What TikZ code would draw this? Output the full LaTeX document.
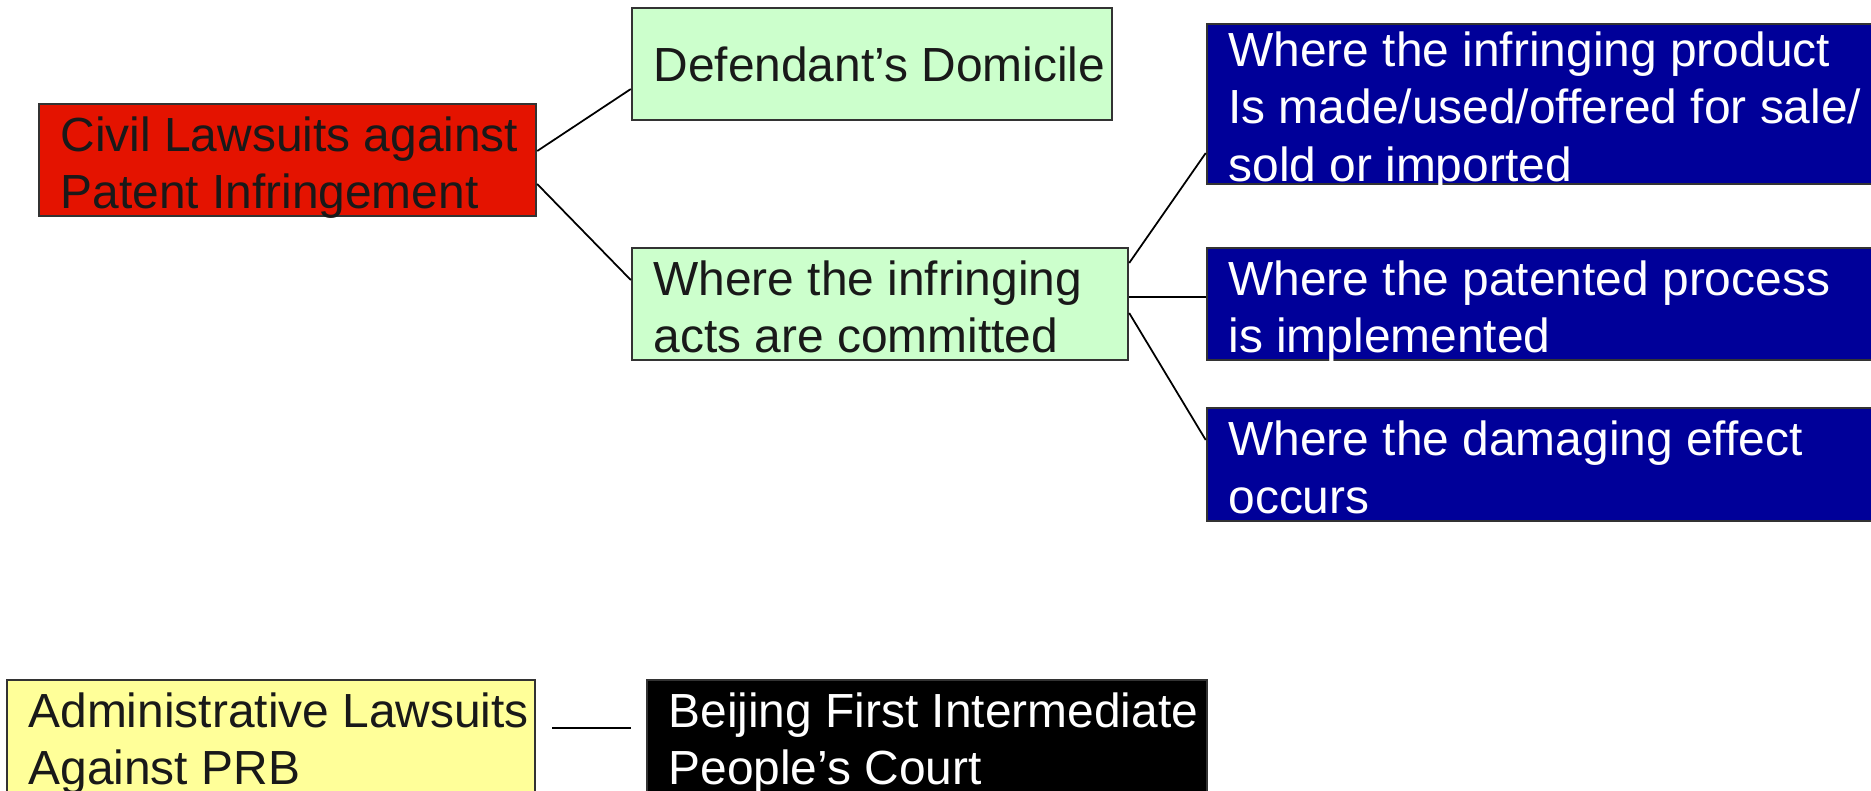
\documentclass[tikz,border=0pt]{standalone}
\usepackage{fontspec}
\setmainfont{Liberation Sans}
\usetikzlibrary{positioning}
\definecolor{civilred}{RGB}{228,19,0}
\definecolor{placegreen}{RGB}{204,255,204}
\definecolor{actblue}{RGB}{0,0,153}
\definecolor{adminyellow}{RGB}{255,255,153}
\newcommand{\boxstrut}{\rule[-3.13pt]{0pt}{16.5pt}}
\newcommand{\boxfont}{\fontsize{13.62pt}{16.4pt}\selectfont}

\begin{document}
\begin{tikzpicture}[x=0.01cm,y=-0.01cm,
  box/.style={draw=black!80,line width=0.6pt,inner sep=0pt,minimum height=1.12cm},
  txt/.style={align=left,inner sep=0pt,font=\boxfont,text=black!90,yshift=-0.08cm,
    execute at begin node=\boxstrut,execute at end node=\boxstrut},
  wtxt/.style={txt,text=white},
  link/.style={line width=0.5pt}]
  \useasboundingbox (0,0) rectangle (1871,790);
  \node[box,fill=civilred,minimum width=4.97cm] (civil) at (287.5,160) {};
  \node[txt,right=0.22cm of civil.west] (civil-t) {Civil Lawsuits against\\Patent Infringement};
  \node[box,fill=placegreen,minimum width=4.8cm] (domicile) at (872,64) {};
  \node[txt,yshift=0.09cm,right=0.22cm of domicile.west] (domicile-t) {Defendant’s Domicile};
  \node[box,fill=placegreen,minimum width=4.96cm] (acts) at (880,304) {};
  \node[txt,right=0.22cm of acts.west] (acts-t) {Where the infringing\\acts are committed};
  \node[box,fill=actblue,minimum width=7cm,minimum height=1.6cm] (product) at (1557,104) {};
  \node[wtxt,right=0.22cm of product.west] (product-t) {Where the infringing product\\Is made/used/offered for sale/\\sold or imported};
  \node[box,fill=actblue,minimum width=7cm] (process) at (1557,304) {};
  \node[wtxt,right=0.22cm of process.west] (process-t) {Where the patented process\\is implemented};
  \node[box,fill=actblue,minimum width=7cm,minimum height=1.13cm] (effect) at (1557,464.5) {};
  \node[wtxt,right=0.22cm of effect.west] (effect-t) {Where the damaging effect\\occurs};
  \node[box,fill=adminyellow,minimum width=5.28cm] (admin) at (271,736) {};
  \node[txt,right=0.22cm of admin.west] (admin-t) {Administrative Lawsuits\\Against PRB};
  \node[box,fill=black,minimum width=5.6cm] (court) at (927,736) {};
  \node[wtxt,right=0.22cm of court.west] (court-t) {Beijing First Intermediate\\People’s Court};
  \draw[link] ([yshift=0.09cm]civil.east) -- ([yshift=-0.25cm]domicile.west);
  \draw[link] ([yshift=-0.24cm]civil.east) -- ([yshift=0.24cm]acts.west);
  \draw[link] ([yshift=0.41cm]acts.east) -- ([yshift=-0.49cm]product.west);
  \draw[link] ([yshift=0.07cm]acts.east) -- ([yshift=0.07cm]process.west);
  \draw[link] ([yshift=-0.09cm]acts.east) -- ([yshift=0.245cm]effect.west);
  \draw[link] ([xshift=0.16cm,yshift=0.08cm]admin.east) -- ([xshift=-0.15cm,yshift=0.08cm]court.west);
\end{tikzpicture}
\end{document}
